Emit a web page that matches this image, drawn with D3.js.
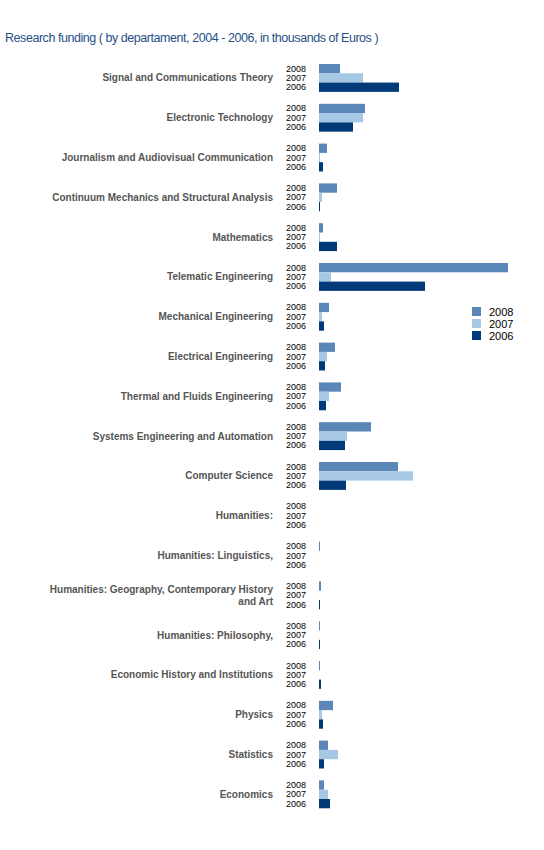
<!DOCTYPE html>
<html><head><meta charset="utf-8">
<script src="https://cdn.jsdelivr.net/npm/d3@7"></script>
<style>body{margin:0;background:#fff}svg{display:block}</style>
</head><body>
<svg id="c" width="544" height="850"></svg>
<script>
const categories = [
  "Signal and Communications Theory",
  "Electronic Technology",
  "Journalism and Audiovisual Communication",
  "Continuum Mechanics and Structural Analysis",
  "Mathematics",
  "Telematic Engineering",
  "Mechanical Engineering",
  "Electrical Engineering",
  "Thermal and Fluids Engineering",
  "Systems Engineering and Automation",
  "Computer Science",
  "Humanities:",
  "Humanities: Linguistics,",
  "Humanities: Geography, Contemporary History|and Art",
  "Humanities: Philosophy,",
  "Economic History and Institutions",
  "Physics",
  "Statistics",
  "Economics"
];
const years = ["2008", "2007", "2006"];
const values2008 = [210, 460, 80, 180, 40, 1890, 100, 160, 220, 520, 790, 0, 8, 20, 8, 8, 140, 90, 50];
const values2007 = [440, 440, 10, 30, 10, 120, 30, 80, 100, 280, 940, 0, 0, 0, 0, 0, 30, 190, 90];
const values2006 = [800, 340, 40, 10, 180, 1060, 50, 60, 70, 260, 270, 0, 0, 10, 10, 20, 40, 50, 110];
const colors = ["#5b87b8", "#a6c8e4", "#003a78"];
const title = "Research funding ( by departament, 2004 - 2006, in thousands of Euros )";

const series = [values2008, values2007, values2006];
const svg = d3.select("#c");

svg.append("text").attr("x", 5).attr("y", 42)
  .attr("font-family", "Liberation Sans, Arial, sans-serif")
  .attr("font-size", 12.5).attr("letter-spacing", -0.45).attr("fill", "#1f4f86")
  .text(title);

const y = d3.scaleBand().domain(categories).range([64, 808.3]).paddingInner(0.3).paddingOuter(0);
const yy = d3.scaleBand().domain(years).range([0, y.bandwidth()]);
const x = d3.scaleLinear().domain([0, 1000]).range([319, 419]);

const g = svg.append("g").selectAll("g").data(categories).join("g")
  .attr("transform", d => `translate(0,${y(d)})`);

g.each(function(cat, i) {
  const sel = d3.select(this);
  years.forEach((yr, k) => {
    const v = series[k][i];
    if (v > 0) {
      sel.append("rect").attr("x", x(0)).attr("y", yy(yr))
        .attr("width", Math.max(1, x(v) - x(0))).attr("height", yy.bandwidth())
        .attr("fill", colors[k]);
    }
    sel.append("text").attr("x", 306).attr("y", yy(yr) + yy.bandwidth() / 2 + 3)
      .attr("text-anchor", "end")
      .attr("font-family", "Liberation Sans, Arial, sans-serif")
      .attr("font-size", 9).attr("fill", "#000").text(yr);
  });
  const lines = cat.split("|");
  const t = sel.append("text").attr("text-anchor", "end")
    .attr("font-family", "Liberation Sans, Arial, sans-serif")
    .attr("font-size", 10).attr("font-weight", "bold").attr("fill", "#555");
  const c = y.bandwidth() / 2;
  lines.forEach((ln, j) => {
    t.append("tspan").attr("x", 273)
      .attr("y", c + 3.5 + (j - (lines.length - 1) / 2) * 12).text(ln);
  });
});

const leg = svg.append("g").attr("transform", "translate(472,307)");
years.forEach((yr, k) => {
  leg.append("rect").attr("x", 0).attr("y", k * 12).attr("width", 9).attr("height", 9).attr("fill", colors[k]);
  leg.append("text").attr("x", 17).attr("y", k * 12 + 8.5)
    .attr("font-family", "Liberation Sans, Arial, sans-serif")
    .attr("font-size", 11).attr("fill", "#000").text(yr);
});
</script>
</body></html>
